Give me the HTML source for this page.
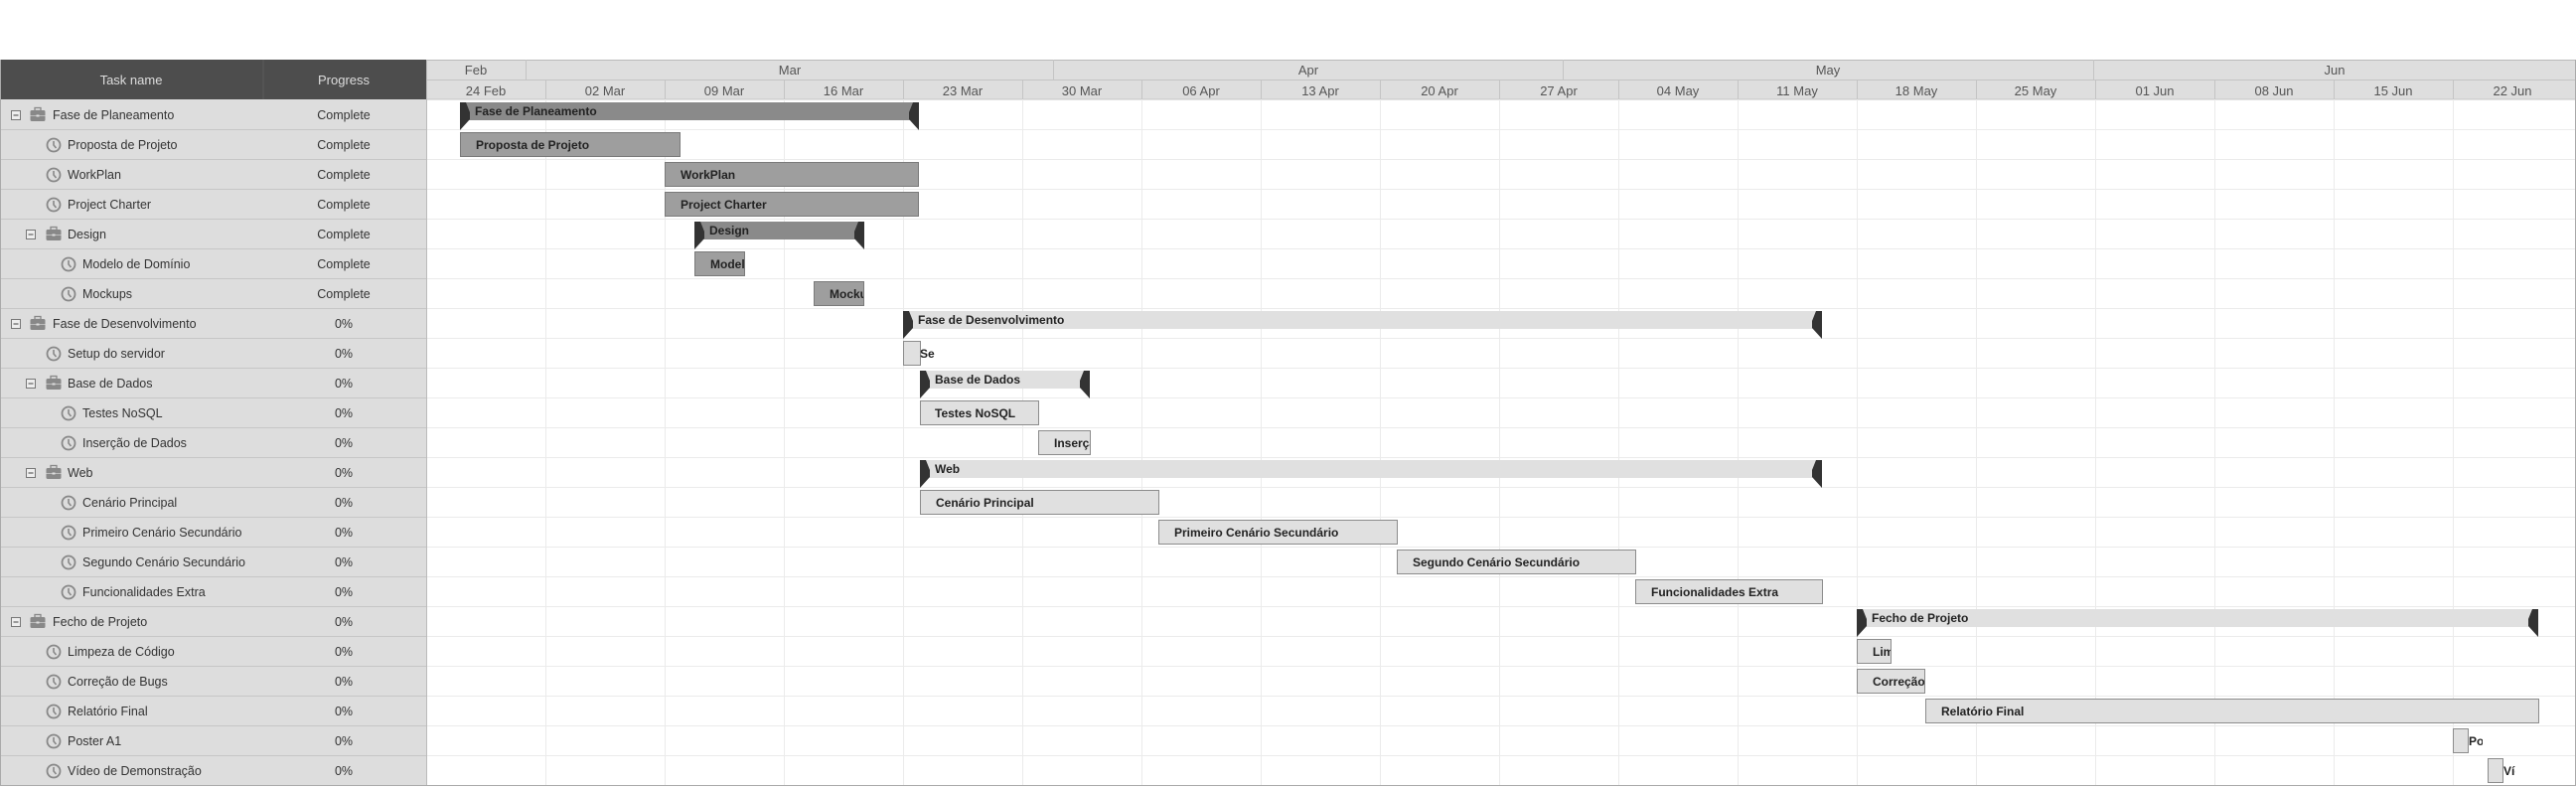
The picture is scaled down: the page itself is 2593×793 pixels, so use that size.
<!DOCTYPE html>
<html><head><meta charset="utf-8"><style>
html,body{margin:0;padding:0;background:#fff;}
svg{display:block;}
text{font-family:"Liberation Sans",sans-serif;}
.l{font-size:12.5px;fill:#333;}
.p{font-size:12.5px;fill:#333;text-anchor:middle;}
.h{font-size:13px;fill:#555;text-anchor:middle;}
.b{font-size:12px;font-weight:bold;fill:#222;}
</style></head><body>
<svg width="2593" height="793" viewBox="0 0 2593 793" xmlns="http://www.w3.org/2000/svg">
<defs>
<g id="clk"><circle cx="0" cy="0" r="6.5" fill="none" stroke="#888" stroke-width="1.8"/><path d="M0,-4 V0 L2.5,3" fill="none" stroke="#888" stroke-width="1.6"/></g>
<g id="bc"><rect x="-7.5" y="-5" width="15" height="11" rx="1.5" fill="#888"/><rect x="-3" y="-7.5" width="6" height="3" fill="none" stroke="#888" stroke-width="1.3"/><rect x="-7.5" y="0" width="15" height="1" fill="#bbb"/><rect x="-1.5" y="-0.5" width="3" height="2" fill="#ddd"/></g>
<g id="mn"><rect x="-4.5" y="-4.5" width="9" height="9" fill="#eee" stroke="#777" stroke-width="1"/><path d="M-2.5,0 H2.5" stroke="#444" stroke-width="1"/></g>
</defs>
<rect x="0" y="60" width="430" height="40" fill="#4d4d4d"/>
<line x1="265" y1="60" x2="265" y2="100" stroke="#5c5c5c"/>
<text x="132" y="85" class="h" style="fill:#ddd">Task name</text>
<text x="346" y="85" class="h" style="fill:#ddd">Progress</text>
<rect x="430" y="60" width="2163" height="40" fill="#dedede"/>
<line x1="430" y1="60.5" x2="2593" y2="60.5" stroke="#bbb"/>
<line x1="430" y1="80.5" x2="2593" y2="80.5" stroke="#c4c4c4"/>
<line x1="430" y1="100" x2="2593" y2="100" stroke="#c4c4c4"/>
<g stroke="#c4c4c4"><line x1="529.5" y1="60" x2="529.5" y2="80"/><line x1="1060.5" y1="60" x2="1060.5" y2="80"/><line x1="1573.5" y1="60" x2="1573.5" y2="80"/><line x1="2107.5" y1="60" x2="2107.5" y2="80"/></g>
<text x="479" y="75" class="h">Feb</text><text x="795" y="75" class="h">Mar</text><text x="1317" y="75" class="h">Apr</text><text x="1840" y="75" class="h">May</text><text x="2350" y="75" class="h">Jun</text>
<g stroke="#c4c4c4">
<line x1="549.5" y1="80" x2="549.5" y2="100"/><line x1="669.5" y1="80" x2="669.5" y2="100"/><line x1="789.5" y1="80" x2="789.5" y2="100"/><line x1="909.5" y1="80" x2="909.5" y2="100"/><line x1="1029.5" y1="80" x2="1029.5" y2="100"/><line x1="1149.5" y1="80" x2="1149.5" y2="100"/><line x1="1269.5" y1="80" x2="1269.5" y2="100"/><line x1="1389.5" y1="80" x2="1389.5" y2="100"/><line x1="1509.5" y1="80" x2="1509.5" y2="100"/><line x1="1629.5" y1="80" x2="1629.5" y2="100"/><line x1="1749.5" y1="80" x2="1749.5" y2="100"/><line x1="1869.5" y1="80" x2="1869.5" y2="100"/><line x1="1989.5" y1="80" x2="1989.5" y2="100"/><line x1="2109.5" y1="80" x2="2109.5" y2="100"/><line x1="2229.5" y1="80" x2="2229.5" y2="100"/><line x1="2349.5" y1="80" x2="2349.5" y2="100"/><line x1="2469.5" y1="80" x2="2469.5" y2="100"/>
</g>
<text x="489" y="96" class="h">24 Feb</text><text x="609" y="96" class="h">02 Mar</text><text x="729" y="96" class="h">09 Mar</text><text x="849" y="96" class="h">16 Mar</text><text x="969" y="96" class="h">23 Mar</text><text x="1089" y="96" class="h">30 Mar</text><text x="1209" y="96" class="h">06 Apr</text><text x="1329" y="96" class="h">13 Apr</text><text x="1449" y="96" class="h">20 Apr</text><text x="1569" y="96" class="h">27 Apr</text><text x="1689" y="96" class="h">04 May</text><text x="1809" y="96" class="h">11 May</text><text x="1929" y="96" class="h">18 May</text><text x="2049" y="96" class="h">25 May</text><text x="2169" y="96" class="h">01 Jun</text><text x="2289" y="96" class="h">08 Jun</text><text x="2409" y="96" class="h">15 Jun</text><text x="2529" y="96" class="h">22 Jun</text>
<rect x="0" y="100" width="430" height="690" fill="#dddddd"/>
<g stroke="#c6c6c6">
<line x1="0" y1="130.5" x2="430" y2="130.5"/><line x1="0" y1="160.5" x2="430" y2="160.5"/><line x1="0" y1="190.5" x2="430" y2="190.5"/><line x1="0" y1="220.5" x2="430" y2="220.5"/><line x1="0" y1="250.5" x2="430" y2="250.5"/><line x1="0" y1="280.5" x2="430" y2="280.5"/><line x1="0" y1="310.5" x2="430" y2="310.5"/><line x1="0" y1="340.5" x2="430" y2="340.5"/><line x1="0" y1="370.5" x2="430" y2="370.5"/><line x1="0" y1="400.5" x2="430" y2="400.5"/><line x1="0" y1="430.5" x2="430" y2="430.5"/><line x1="0" y1="460.5" x2="430" y2="460.5"/><line x1="0" y1="490.5" x2="430" y2="490.5"/><line x1="0" y1="520.5" x2="430" y2="520.5"/><line x1="0" y1="550.5" x2="430" y2="550.5"/><line x1="0" y1="580.5" x2="430" y2="580.5"/><line x1="0" y1="610.5" x2="430" y2="610.5"/><line x1="0" y1="640.5" x2="430" y2="640.5"/><line x1="0" y1="670.5" x2="430" y2="670.5"/><line x1="0" y1="700.5" x2="430" y2="700.5"/><line x1="0" y1="730.5" x2="430" y2="730.5"/><line x1="0" y1="760.5" x2="430" y2="760.5"/>
</g>
<line x1="429.5" y1="60" x2="429.5" y2="790" stroke="#bbb"/>
<g stroke="#ebebeb">
<line x1="549.5" y1="100" x2="549.5" y2="790"/><line x1="669.5" y1="100" x2="669.5" y2="790"/><line x1="789.5" y1="100" x2="789.5" y2="790"/><line x1="909.5" y1="100" x2="909.5" y2="790"/><line x1="1029.5" y1="100" x2="1029.5" y2="790"/><line x1="1149.5" y1="100" x2="1149.5" y2="790"/><line x1="1269.5" y1="100" x2="1269.5" y2="790"/><line x1="1389.5" y1="100" x2="1389.5" y2="790"/><line x1="1509.5" y1="100" x2="1509.5" y2="790"/><line x1="1629.5" y1="100" x2="1629.5" y2="790"/><line x1="1749.5" y1="100" x2="1749.5" y2="790"/><line x1="1869.5" y1="100" x2="1869.5" y2="790"/><line x1="1989.5" y1="100" x2="1989.5" y2="790"/><line x1="2109.5" y1="100" x2="2109.5" y2="790"/><line x1="2229.5" y1="100" x2="2229.5" y2="790"/><line x1="2349.5" y1="100" x2="2349.5" y2="790"/><line x1="2469.5" y1="100" x2="2469.5" y2="790"/>
<line x1="430" y1="130.5" x2="2593" y2="130.5"/><line x1="430" y1="160.5" x2="2593" y2="160.5"/><line x1="430" y1="190.5" x2="2593" y2="190.5"/><line x1="430" y1="220.5" x2="2593" y2="220.5"/><line x1="430" y1="250.5" x2="2593" y2="250.5"/><line x1="430" y1="280.5" x2="2593" y2="280.5"/><line x1="430" y1="310.5" x2="2593" y2="310.5"/><line x1="430" y1="340.5" x2="2593" y2="340.5"/><line x1="430" y1="370.5" x2="2593" y2="370.5"/><line x1="430" y1="400.5" x2="2593" y2="400.5"/><line x1="430" y1="430.5" x2="2593" y2="430.5"/><line x1="430" y1="460.5" x2="2593" y2="460.5"/><line x1="430" y1="490.5" x2="2593" y2="490.5"/><line x1="430" y1="520.5" x2="2593" y2="520.5"/><line x1="430" y1="550.5" x2="2593" y2="550.5"/><line x1="430" y1="580.5" x2="2593" y2="580.5"/><line x1="430" y1="610.5" x2="2593" y2="610.5"/><line x1="430" y1="640.5" x2="2593" y2="640.5"/><line x1="430" y1="670.5" x2="2593" y2="670.5"/><line x1="430" y1="700.5" x2="2593" y2="700.5"/><line x1="430" y1="730.5" x2="2593" y2="730.5"/><line x1="430" y1="760.5" x2="2593" y2="760.5"/>
</g>
<line x1="0" y1="790.5" x2="2593" y2="790.5" stroke="#aaa"/>
<line x1="2592.5" y1="60" x2="2592.5" y2="790" stroke="#aaa"/>
<line x1="0.5" y1="60" x2="0.5" y2="790" stroke="#aaa"/>

<use href="#mn" x="16" y="116"/><use href="#bc" x="38" y="116"/><text x="53" y="120" class="l">Fase de Planeamento</text><text x="346" y="120" class="p">Complete</text>
<use href="#clk" x="54" y="146"/><text x="68" y="150" class="l">Proposta de Projeto</text><text x="346" y="150" class="p">Complete</text>
<use href="#clk" x="54" y="176"/><text x="68" y="180" class="l">WorkPlan</text><text x="346" y="180" class="p">Complete</text>
<use href="#clk" x="54" y="206"/><text x="68" y="210" class="l">Project Charter</text><text x="346" y="210" class="p">Complete</text>
<use href="#mn" x="31" y="236"/><use href="#bc" x="54" y="236"/><text x="68" y="240" class="l">Design</text><text x="346" y="240" class="p">Complete</text>
<use href="#clk" x="69" y="266"/><text x="83" y="270" class="l">Modelo de Domínio</text><text x="346" y="270" class="p">Complete</text>
<use href="#clk" x="69" y="296"/><text x="83" y="300" class="l">Mockups</text><text x="346" y="300" class="p">Complete</text>
<use href="#mn" x="16" y="326"/><use href="#bc" x="38" y="326"/><text x="53" y="330" class="l">Fase de Desenvolvimento</text><text x="346" y="330" class="p">0%</text>
<use href="#clk" x="54" y="356"/><text x="68" y="360" class="l">Setup do servidor</text><text x="346" y="360" class="p">0%</text>
<use href="#mn" x="31" y="386"/><use href="#bc" x="54" y="386"/><text x="68" y="390" class="l">Base de Dados</text><text x="346" y="390" class="p">0%</text>
<use href="#clk" x="69" y="416"/><text x="83" y="420" class="l">Testes NoSQL</text><text x="346" y="420" class="p">0%</text>
<use href="#clk" x="69" y="446"/><text x="83" y="450" class="l">Inserção de Dados</text><text x="346" y="450" class="p">0%</text>
<use href="#mn" x="31" y="476"/><use href="#bc" x="54" y="476"/><text x="68" y="480" class="l">Web</text><text x="346" y="480" class="p">0%</text>
<use href="#clk" x="69" y="506"/><text x="83" y="510" class="l">Cenário Principal</text><text x="346" y="510" class="p">0%</text>
<use href="#clk" x="69" y="536"/><text x="83" y="540" class="l">Primeiro Cenário Secundário</text><text x="346" y="540" class="p">0%</text>
<use href="#clk" x="69" y="566"/><text x="83" y="570" class="l">Segundo Cenário Secundário</text><text x="346" y="570" class="p">0%</text>
<use href="#clk" x="69" y="596"/><text x="83" y="600" class="l">Funcionalidades Extra</text><text x="346" y="600" class="p">0%</text>
<use href="#mn" x="16" y="626"/><use href="#bc" x="38" y="626"/><text x="53" y="630" class="l">Fecho de Projeto</text><text x="346" y="630" class="p">0%</text>
<use href="#clk" x="54" y="656"/><text x="68" y="660" class="l">Limpeza de Código</text><text x="346" y="660" class="p">0%</text>
<use href="#clk" x="54" y="686"/><text x="68" y="690" class="l">Correção de Bugs</text><text x="346" y="690" class="p">0%</text>
<use href="#clk" x="54" y="716"/><text x="68" y="720" class="l">Relatório Final</text><text x="346" y="720" class="p">0%</text>
<use href="#clk" x="54" y="746"/><text x="68" y="750" class="l">Poster A1</text><text x="346" y="750" class="p">0%</text>
<use href="#clk" x="54" y="776"/><text x="68" y="780" class="l">Vídeo de Demonstração</text><text x="346" y="780" class="p">0%</text>

<rect x="463" y="103" width="462" height="18" fill="#8a8a8a"/>
<path d="M463,103 L469,103 L473,113 L473,120 L463,131 Z" fill="#333"/><path d="M925,103 L919,103 L915,113 L915,120 L925,131 Z" fill="#333"/>
<text x="478" y="116" class="b">Fase de Planeamento</text>
<rect x="699" y="223" width="171" height="18" fill="#8a8a8a"/>
<path d="M699,223 L705,223 L709,233 L709,240 L699,251 Z" fill="#333"/><path d="M870,223 L864,223 L860,233 L860,240 L870,251 Z" fill="#333"/>
<text x="714" y="236" class="b">Design</text>
<rect x="909" y="313" width="925" height="18" fill="#e0e0e0"/>
<path d="M909,313 L915,313 L919,323 L919,330 L909,341 Z" fill="#333"/><path d="M1834,313 L1828,313 L1824,323 L1824,330 L1834,341 Z" fill="#333"/>
<text x="924" y="326" class="b">Fase de Desenvolvimento</text>
<rect x="926" y="373" width="171" height="18" fill="#e0e0e0"/>
<path d="M926,373 L932,373 L936,383 L936,390 L926,401 Z" fill="#333"/><path d="M1097,373 L1091,373 L1087,383 L1087,390 L1097,401 Z" fill="#333"/>
<text x="941" y="386" class="b">Base de Dados</text>
<rect x="926" y="463" width="908" height="18" fill="#e0e0e0"/>
<path d="M926,463 L932,463 L936,473 L936,480 L926,491 Z" fill="#333"/><path d="M1834,463 L1828,463 L1824,473 L1824,480 L1834,491 Z" fill="#333"/>
<text x="941" y="476" class="b">Web</text>
<rect x="1869" y="613" width="686" height="18" fill="#e0e0e0"/>
<path d="M1869,613 L1875,613 L1879,623 L1879,630 L1869,641 Z" fill="#333"/><path d="M2555,613 L2549,613 L2545,623 L2545,630 L2555,641 Z" fill="#333"/>
<text x="1884" y="626" class="b">Fecho de Projeto</text>

<g stroke="#7a7a7a" fill="#9e9e9e">
<rect x="463.5" y="133.5" width="221" height="24"/>
<rect x="669.5" y="163.5" width="255" height="24"/>
<rect x="669.5" y="193.5" width="255" height="24"/>
<rect x="699.5" y="253.5" width="50" height="24"/>
<rect x="819.5" y="283.5" width="50" height="24"/>
</g>
<text x="479" y="150" class="b">Proposta de Projeto</text>
<text x="685" y="180" class="b">WorkPlan</text>
<text x="685" y="210" class="b">Project Charter</text>
<svg x="699" y="253" width="50" height="25"><text x="16" y="17" class="b">Modelo</text></svg>
<svg x="819" y="283" width="50" height="25"><text x="16" y="17" class="b">Mockups</text></svg>

<g stroke="#8c8c8c" fill="#e0e0e0">
<rect x="909.5" y="343.5" width="17" height="24"/>
<rect x="926.5" y="403.5" width="119" height="24"/>
<rect x="1045.5" y="433.5" width="52" height="24"/>
<rect x="926.5" y="493.5" width="240" height="24"/>
<rect x="1166.5" y="523.5" width="240" height="24"/>
<rect x="1406.5" y="553.5" width="240" height="24"/>
<rect x="1646.5" y="583.5" width="188" height="24"/>
<rect x="1869.5" y="643.5" width="34" height="24"/>
<rect x="1869.5" y="673.5" width="68" height="24"/>
<rect x="1938.5" y="703.5" width="617" height="24"/>
<rect x="2469.5" y="733.5" width="15" height="24"/>
<rect x="2504.5" y="763.5" width="15" height="24"/>
</g>
<svg x="909" y="343" width="32" height="25"><text x="17" y="17" class="b">Se</text></svg>
<text x="941" y="420" class="b">Testes NoSQL</text>
<svg x="1045" y="433" width="52" height="25"><text x="16" y="17" class="b">Inserção de Dados</text></svg>
<text x="942" y="510" class="b">Cenário Principal</text>
<text x="1182" y="540" class="b">Primeiro Cenário Secundário</text>
<text x="1422" y="570" class="b">Segundo Cenário Secundário</text>
<text x="1662" y="600" class="b">Funcionalidades Extra</text>
<svg x="1869" y="643" width="34" height="25"><text x="16" y="17" class="b">Limpeza</text></svg>
<svg x="1869" y="673" width="68" height="25"><text x="16" y="17" class="b">Correção de Bugs</text></svg>
<text x="1954" y="720" class="b">Relatório Final</text>
<svg x="2469" y="733" width="30" height="25"><text x="16" y="17" class="b">Po</text></svg>
<svg x="2504" y="763" width="28" height="25"><text x="16" y="17" class="b">Vídeo</text></svg>
</svg>
</body></html>
